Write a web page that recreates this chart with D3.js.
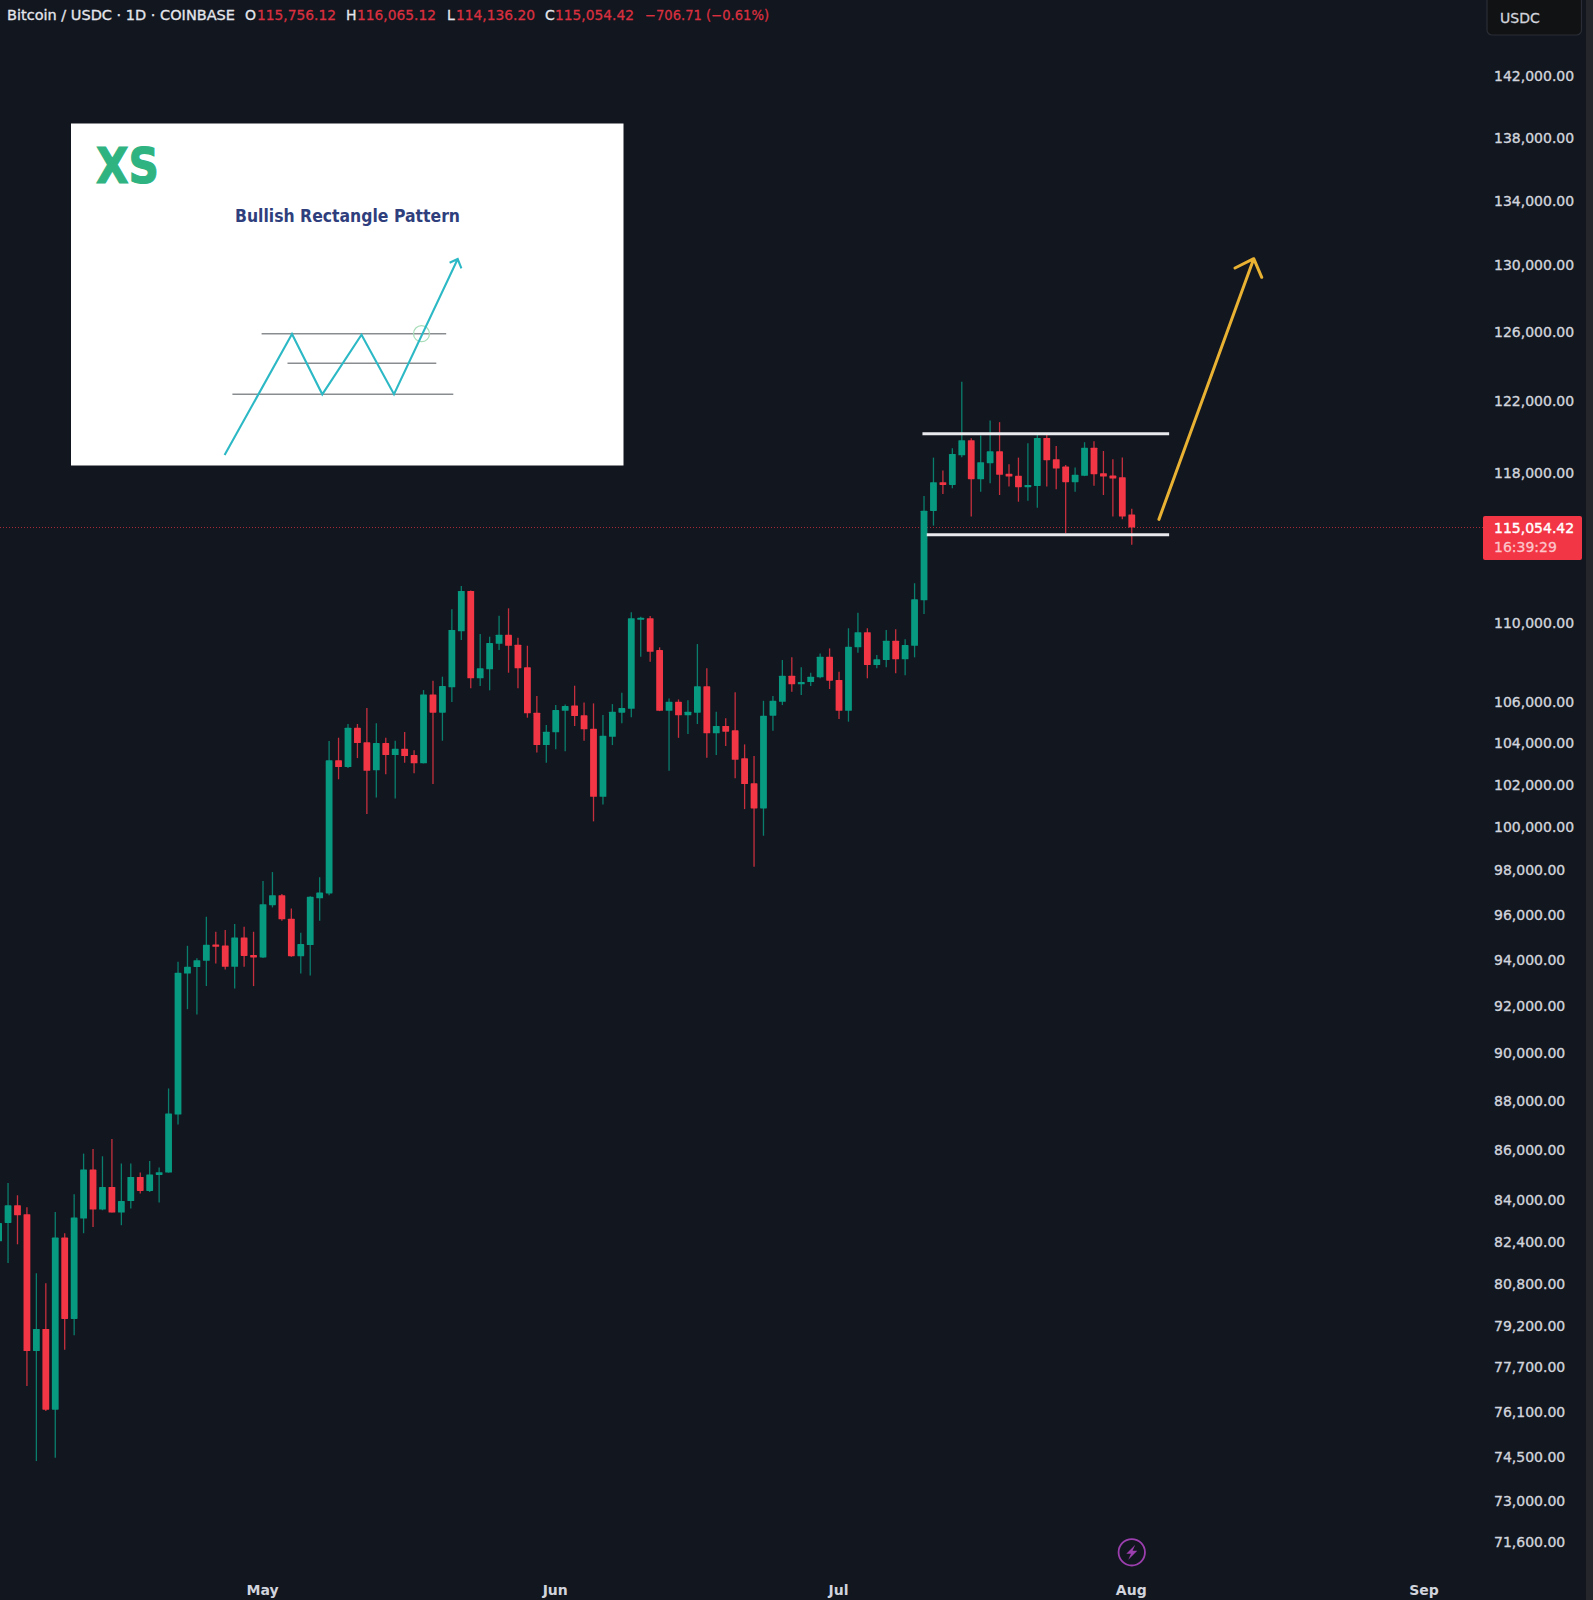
<!DOCTYPE html>
<html>
<head>
<meta charset="utf-8">
<title>Bitcoin / USDC</title>
<script src="https://cdn.jsdelivr.net/npm/d3@7"></script>
<style>
	html, body { margin: 0; padding: 0; background: #12161f; }
	svg { display: block; }
	text { font-family: "DejaVu Sans", sans-serif; }
</style>
</head>
<body>
<svg id="viz" width="1593" height="1600"></svg>
<script>

// Daily candles, one per day starting on firstDay
const firstDay = Date.UTC(2025, 3, 3);

const opens = [
	82436,83146,83833,83484,78314,79129,76202,82579,79499,83317,
	85247,83666,84556,83550,84000,84953,84397,85032,85128,87465,
	93420,93700,93975,94698,94650,93712,95008,94235,94122,96450,
	96900,95838,94178,94670,96760,96980,103198,102877,104785,104070,
	102718,104035,103451,103756,103451,103054,106427,105520,106780,109611,
	111692,107230,107680,108975,109439,108924,107783,105520,103936,104560,
	105618,105882,105392,104736,101454,104339,105520,105716,110227,110279,
	108651,105618,106059,105392,105520,106829,104509,104868,104657,103294,
	102096,100908,105373,106059,107361,106929,107045,107280,108315,107145,
	105618,108790,109560,107898,108149,109129,108184,108872,111205,115948,
	117516,117368,119004,119843,117682,118563,119224,117974,117864,117241,
	117313,119972,118784,118376,117516,117864,119426,118012,117880,117792,
	115756.12
];

const highs = [
	83639,84715,84226,83755,81214,80835,83573,82747,84266,85882,
	86065,85775,86473,85485,85485,85128,85588,85326,88535,93930,
	94634,94091,95927,95258,95334,95602,95481,95258,97540,97952,
	96950,96302,95214,96850,97709,104133,104296,104966,104966,105750,
	105000,104296,104148,104574,103691,106642,107110,107311,110742,111955,
	111720,109472,109334,110413,110793,109283,108872,106343,104917,105897,
	105931,106859,106029,105980,105407,105946,106508,110588,110362,110398,
	108790,106227,106177,106142,108959,107732,105569,105245,106528,103971,
	103404,106108,106343,108149,108284,107783,107511,108484,108738,107562,
	109766,110567,109766,108400,109678,109714,109201,112097,116761,118872,
	118155,119392,123162,119956,120103,120949,120858,118508,118872,119674,
	120238,120142,119521,118469,118321,119730,119787,119241,118784,118872,
	116065.12
];

const lows = [
	81328,81605,82320,77046,74394,76152,74511,78365,78896,82746,
	82991,83639,83550,83057,83705,84293,84357,83938,85120,87058,
	91875,91649,92870,93860,93598,92770,93712,92870,94100,96346,
	95749,94148,93424,93337,95749,96900,102288,102829,103308,100641,
	101425,102527,101377,103083,102575,103050,102062,104148,106044,109164,
	106728,106844,106629,108651,107511,106728,105275,103581,103083,103740,
	103643,104868,104148,100299,101095,103936,105005,105294,108315,108064,
	105600,102699,104290,104476,104966,103322,103451,103887,102336,100875,
	98194,99626,104638,105897,106559,106393,106844,107230,106693,105211,
	105079,108515,107230,107732,107783,107481,107381,108284,110500,115157,
	116871,117185,118894,115642,116997,117461,116816,117274,116449,116502,
	116126,117274,117131,114748,116997,117850,117326,116816,115642,115502,
	114136.20
];

const closes = [
	83146,83833,83445,78314,79129,76202,82579,79499,83356,85247,
	83666,84556,83550,84000,84953,84397,85048,85140,87506,93450,
	93712,94004,94679,94590,93712,95008,94191,94122,96494,96900,
	95811,94178,94710,96824,97024,103198,102877,104785,104035,102699,
	104035,103451,103756,103404,103054,106427,105520,106844,109678,111692,
	107230,107732,109010,109439,108872,107732,105490,103936,104589,105652,
	105848,105358,104706,101454,104388,105569,105750,110279,110310,108566,
	105618,106059,105392,105569,106829,104509,104868,104589,103226,102062,
	100908,105373,106108,107361,106929,107045,107311,108315,107110,105618,
	108821,109560,107898,108184,109129,108184,108908,111257,115964,117516,
	117368,119076,119843,117682,118618,119224,117919,117825,117241,117368,
	119972,118729,118266,117516,117919,119426,117957,117825,117716,115642,
	115054.42
];

const priceTicks = [142000,138000,134000,130000,126000,122000,118000,110000,106000,104000,102000,100000,98000,96000,94000,92000,90000,88000,86000,84000,82400,80800,79200,77700,76100,74500,73000,71600];
const monthTicks = [Date.UTC(2025,4,1), Date.UTC(2025,5,1), Date.UTC(2025,6,1), Date.UTC(2025,7,1), Date.UTC(2025,8,1)];

// Drawings on the chart, in time and price
const rangeHigh = 120209;
const rangeLow = 114668;
const rangeHighStart = Date.UTC(2025,6,9,20);
const rangeLowStart = Date.UTC(2025,6,10,7);
const rangeEnd = Date.UTC(2025,7,4,23);
const arrowTimes = [Date.UTC(2025,7,3,21), Date.UTC(2025,7,13,22)];
const arrowPrices = [115493, 130445];
const lastPrice = 115054.42;

const headerParts = [
	{text: "Bitcoin / USDC · 1D · COINBASE", x: 7, w: 228, up: true},
	{text: "O", x: 245, up: true},
	{text: "115,756.12", x: 257, w: 79},
	{text: "H", x: 346, up: true},
	{text: "116,065.12", x: 357, w: 79},
	{text: "L", x: 447, up: true},
	{text: "114,136.20", x: 456, w: 79},
	{text: "C", x: 545, up: true},
	{text: "115,054.42", x: 555, w: 79},
	{text: "−706.71 (−0.61%)", x: 645, w: 124}
];

const green = "#089981";
const red = "#f23645";
const axisText = "#d1d4dc";

const candles = opens.map(function(o, i) {
	return {
		day: d3.utcDay.offset(new Date(firstDay), i),
		open: o,
		high: highs[i],
		low: lows[i],
		close: closes[i]
	};
});

let svg = d3.select("svg#viz");

// scales
let xScale = d3.scaleUtc()
	.domain([new Date(firstDay), new Date(monthTicks[4])])
	.range([-1.4, 1424.5]);

let yScale = d3.scaleLog()
	.domain([71600, 142000])
	.range([1543, 77]);

drawPriceLine();
drawCandles();
drawAnnotations();
drawAxes();
drawHeader();
drawInset();

function drawPriceLine() {
	svg.append("line")
		.attr("x1", 0)
		.attr("x2", 1483)
		.attr("y1", yScale(lastPrice))
		.attr("y2", yScale(lastPrice))
		.attr("stroke", red)
		.attr("stroke-opacity", 0.65)
		.attr("stroke-dasharray", "1 2");
}

function drawCandles() {
	let color = d => d.close >= d.open ? green : red;

	let groups = svg.append("g").attr("id", "candles")
		.selectAll("g")
		.data(candles)
		.enter().append("g");

	groups.append("line")
		.attr("x1", d => xScale(d.day))
		.attr("x2", d => xScale(d.day))
		.attr("y1", d => yScale(d.high))
		.attr("y2", d => yScale(d.low))
		.attr("stroke", color)
		.attr("stroke-opacity", 0.8)
		.attr("stroke-width", 1.3);

	groups.append("rect")
		.attr("x", d => xScale(d.day) - 3.4)
		.attr("width", 6.8)
		.attr("y", d => yScale(Math.max(d.open, d.close)))
		.attr("height", d => Math.max(2.2, Math.abs(yScale(d.open) - yScale(d.close))))
		.attr("rx", 0.6)
		.attr("fill", color);
}

function drawAnnotations() {
	let lines = [
		{price: rangeHigh, start: rangeHighStart},
		{price: rangeLow, start: rangeLowStart}
	];

	svg.append("g").selectAll("line")
		.data(lines)
		.enter().append("line")
		.attr("x1", d => xScale(d.start))
		.attr("x2", xScale(rangeEnd))
		.attr("y1", d => yScale(d.price))
		.attr("y2", d => yScale(d.price))
		.attr("stroke", "#e9eaee")
		.attr("stroke-width", 3);

	let x0 = xScale(arrowTimes[0]), y0 = yScale(arrowPrices[0]);
	let x1 = xScale(arrowTimes[1]), y1 = yScale(arrowPrices[1]);

	svg.append("path")
		.attr("d", `M${x0},${y0}L${x1},${y1}M${x1 - 18.7},${y1 + 9.3}L${x1},${y1}L${x1 + 8},${y1 + 18.6}`)
		.attr("fill", "none")
		.attr("stroke", "#e9b233")
		.attr("stroke-width", 3)
		.attr("stroke-linecap", "round")
		.attr("stroke-linejoin", "round");
}

function drawAxes() {
	// strip at the far right and the currency button
	svg.append("rect")
		.attr("x", 1586)
		.attr("y", 0)
		.attr("width", 7)
		.attr("height", 1600)
		.attr("fill", "#25262b");

	svg.append("rect")
		.attr("x", 1487)
		.attr("y", -4)
		.attr("width", 94.5)
		.attr("height", 39)
		.attr("rx", 5)
		.attr("fill", "#111214")
		.attr("stroke", "#2a2d35")
		.attr("stroke-width", 1.2);

	svg.append("text")
		.attr("x", 1500)
		.attr("y", 23)
		.attr("font-size", 14)
		.attr("fill", axisText)
		.attr("stroke", axisText)
		.attr("stroke-width", 0.3)
		.text("USDC");

	let yAxis = d3.axisRight(yScale)
		.tickValues(priceTicks)
		.tickFormat(d3.format(",.2f"))
		.tickSize(0)
		.tickPadding(0);

	let yGroup = svg.append("g").attr("id", "y-axis")
		.attr("transform", "translate(1494,-0.6)")
		.call(yAxis);

	let xAxis = d3.axisBottom(xScale)
		.tickValues(monthTicks.map(d => new Date(d)))
		.tickFormat(d3.utcFormat("%b"))
		.tickSize(0)
		.tickPadding(0);

	let xGroup = svg.append("g").attr("id", "x-axis")
		.attr("transform", "translate(-1,1585)")
		.call(xAxis);

	for (let g of [yGroup, xGroup]) {
		g.select(".domain").remove();
		g.selectAll("text")
			.attr("font-family", "DejaVu Sans")
			.attr("font-size", 14)
			.attr("fill", axisText)
			.attr("stroke", axisText)
			.attr("stroke-width", 0.35);
	}
	xGroup.selectAll("text").attr("font-weight", 600).attr("stroke", "none");

	// last price label
	svg.append("rect")
		.attr("x", 1483)
		.attr("y", 516)
		.attr("width", 99)
		.attr("height", 44)
		.attr("rx", 2)
		.attr("fill", red);

	svg.append("text")
		.attr("x", 1494)
		.attr("y", yScale(lastPrice) + 5)
		.attr("font-size", 14)
		.attr("fill", "#ffffff")
		.attr("stroke", "#ffffff")
		.attr("stroke-width", 0.4)
		.text(d3.format(",.2f")(lastPrice));

	svg.append("text")
		.attr("x", 1494)
		.attr("y", 552)
		.attr("font-size", 14)
		.attr("fill", "#fcc5ca")
		.attr("stroke", "#fcc5ca")
		.attr("stroke-width", 0.3)
		.text("16:39:29");

	// lightning mark above Aug
	let bolt = svg.append("g").attr("transform", `translate(${xScale(new Date(monthTicks[3]))},1552.3)`);
	bolt.append("circle")
		.attr("r", 13.2)
		.attr("fill", "none")
		.attr("stroke", "#9c3fae")
		.attr("stroke-width", 1.8);
	bolt.append("path")
		.attr("d", "M3.5,-7.5L-5.5,1.5L-0.8,1.5L-3.5,7.5L5.5,-1.5L0.8,-1.5Z")
		.attr("fill", "#9c3fae");
}

function drawHeader() {
	svg.append("g").attr("id", "header")
		.selectAll("text")
		.data(headerParts)
		.enter().append("text")
		.attr("x", d => d.x)
		.attr("y", 20)
		.attr("font-size", 14)
		.attr("textLength", d => d.w ? d.w : null)
		.attr("lengthAdjust", "spacingAndGlyphs")
		.attr("fill", d => d.up ? "#e4e6ec" : "#d9303f")
		.attr("stroke", d => d.up ? "#e4e6ec" : "#d9303f")
		.attr("stroke-width", 0.3)
		.text(d => d.text);
}

function drawInset() {
	let inset = svg.append("g").attr("id", "inset");

	inset.append("rect")
		.attr("x", 71)
		.attr("y", 123.5)
		.attr("width", 552.5)
		.attr("height", 342)
		.attr("fill", "#ffffff");

	inset.append("text")
		.attr("x", 96)
		.attr("y", 183)
		.attr("font-size", 50)
		.attr("font-family", "Inter")
		.attr("font-weight", 900)
		.attr("textLength", 63)
		.attr("lengthAdjust", "spacingAndGlyphs")
		.attr("fill", "#2fb381")
		.attr("stroke", "#2fb381")
		.attr("stroke-width", 1.2)
		.text("XS");

	inset.append("text")
		.attr("x", 347.5)
		.attr("y", 222)
		.attr("text-anchor", "middle")
		.attr("font-size", 18)
		.attr("font-family", "Inter")
		.attr("font-weight", 600)
		.attr("textLength", 225)
		.attr("lengthAdjust", "spacingAndGlyphs")
		.attr("fill", "#2f3e7c")
		.text("Bullish Rectangle Pattern");

	inset.append("path")
		.attr("d", "M261.6,333.7H446.2M287.5,363.3H436.3M232.4,394.3H453.3")
		.attr("fill", "none")
		.attr("stroke", "#8a8d8f")
		.attr("stroke-width", 1.6);

	inset.append("circle")
		.attr("cx", 421.5)
		.attr("cy", 333.7)
		.attr("r", 8)
		.attr("fill", "none")
		.attr("stroke", "#a6dcb8")
		.attr("stroke-width", 1.2);

	inset.append("path")
		.attr("d", "M224.6,455L292,334L322.3,394.3L361.5,334.7L394,394.3L457.7,259M449.6,262.7L457.7,259L461.4,268.3")
		.attr("fill", "none")
		.attr("stroke", "#2cb9c5")
		.attr("stroke-width", 2.1);
}

</script>
</body>
</html>
